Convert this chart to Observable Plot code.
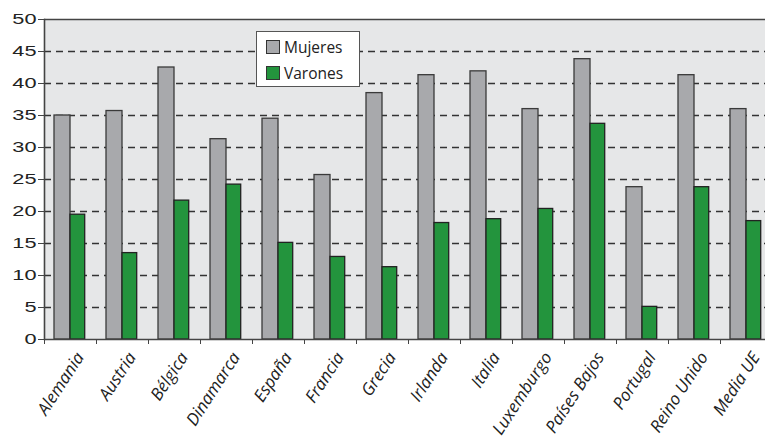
<!DOCTYPE html>
<html><head><meta charset="utf-8">
<script src="https://cdn.jsdelivr.net/npm/d3@7"></script>
<script src="https://cdn.jsdelivr.net/npm/@observablehq/plot@0.6"></script>
<style>
html,body{margin:0;padding:0;background:#fff;overflow:hidden;}
#wrap{position:relative;width:765px;height:439px;overflow:hidden;}
#wrap svg{overflow:hidden;display:block;}
.legend{position:absolute;left:256px;top:31px;width:104px;height:56px;background:#fff;border:1.3px solid #555;box-sizing:border-box;font-family:"Open Sans",sans-serif;font-size:15.5px;color:#222;}
.legend .row{position:absolute;left:9px;height:16px;line-height:16px;display:flex;align-items:center;}
.legend .sw{width:12px;height:12px;border:1px solid #333;margin-right:4px;}
</style></head><body><div id="wrap"></div>
<script>
const paises = ["Alemania","Austria","Bélgica","Dinamarca","España","Francia","Grecia","Irlanda","Italia","Luxemburgo","Países Bajos","Portugal","Reino Unido","Media UE"];
const mujeres = [35.0, 35.7, 42.5, 31.3, 34.5, 25.7, 38.5, 41.3, 41.9, 36.0, 43.8, 23.8, 41.3, 36.0];
const varones = [19.5, 13.5, 21.7, 24.2, 15.1, 12.9, 11.3, 18.2, 18.8, 20.4, 33.7, 5.1, 23.8, 18.5];
const yTicks = [0, 5, 10, 15, 20, 25, 30, 35, 40, 45, 50];
const series = ["Mujeres", "Varones"];
const colores = ["#a8a9ac", "#23943d"];

const data = paises.map((p, i) => ({pais: p, mujeres: mujeres[i], varones: varones[i]}));

const plot = Plot.plot({
  width: 765, height: 439,
  marginLeft: 44, marginTop: 19, marginBottom: 100, marginRight: 0,
  x: {domain: paises, range: [44, 772], padding: 0, label: null},
  y: {domain: [0, 50], label: null},
  style: {fontFamily: "'Open Sans', sans-serif", background: "transparent", color: "#222"},
  marks: [
    Plot.frame({fill: "#e6e7e8", stroke: null}),
    Plot.ruleY(yTicks.filter(t => t > 0 && t < 50), {stroke: "#333", strokeWidth: 1.3, strokeDasharray: "7,5"}),
    Plot.barY(data, {x: "pais", y: "mujeres", fill: colores[0], stroke: "#3a3a3a", strokeWidth: 1.3, insetLeft: 10, insetRight: 26}),
    Plot.barY(data, {x: "pais", y: "varones", fill: colores[1], stroke: "#222", strokeWidth: 1.3, insetLeft: 26, insetRight: 11.3}),
    Plot.ruleY([50], {stroke: "#444", strokeWidth: 1.6}),
    Plot.ruleY([0], {stroke: "#444", strokeWidth: 1.6}),
    Plot.frame({anchor: "left", stroke: "#444", strokeWidth: 1.6}),
    Plot.axisY({ticks: yTicks, tickSize: 6, tickPadding: 2, fontSize: 15, fontFamily: "'Liberation Sans', sans-serif", stroke: "#444", fill: "#222"}),
    Plot.axisX({tickSize: 5, dx: -26, text: null, stroke: "#444"}),
    Plot.axisX({tickSize: 0, tickPadding: 11, rotate: -57, textAnchor: "end", fontSize: 17, fontStyle: "italic", fill: "#222", dx: 4})
  ]
});
document.getElementById("wrap").appendChild(plot);

// widen y-axis digits like the reference
d3.select(plot).selectAll('g[aria-label="y-axis tick label"] text').each(function() {
  const x = +(this.getAttribute("x") || 0);
  const t = this.getAttribute("transform") || "";
  this.setAttribute("transform", t + ` translate(${x},0) scale(1.45,1) translate(${-x},0)`);
});

// legend
const lg = document.createElement("div");
lg.className = "legend";
series.forEach((s, i) => {
  const r = document.createElement("div");
  r.className = "row";
  r.style.top = (i === 0 ? 7 : 33) + "px";
  r.innerHTML = `<span class="sw" style="background:${colores[i]}"></span><span>${s}</span>`;
  lg.appendChild(r);
});
document.getElementById("wrap").appendChild(lg);
</script>
</body></html>
